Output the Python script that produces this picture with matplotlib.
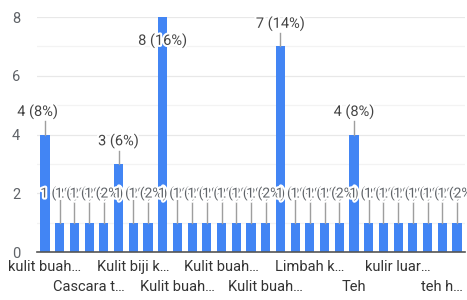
"""Bar chart of answer counts (Google Forms style)."""

import matplotlib

matplotlib.use("Agg")
import matplotlib.pyplot as plt
import matplotlib.patheffects as pe


# answer count per option, left to right
counts = [4, 1, 1, 1, 1, 3, 1, 1, 8, 1, 1, 1, 1, 1, 1, 1, 7, 1, 1, 1, 1, 4,
          1, 1, 1, 1, 1, 1, 1]

# only every third option name is visible in the chart (truncated)
tick_labels = [
    "kulit buah…", "", "", "Cascara t…", "", "", "Kulit biji k…", "", "",
    "Kulit buah…", "", "", "Kulit buah…", "", "", "Kulit buah…", "", "",
    "Limbah k…", "", "", "Teh", "", "", "kulir luar…", "", "", "teh h…", "",
]

BLUE = "#4285f4"
TEXT = "#5f6368"
GRID = "#e8e8e8"
HALO = [pe.withStroke(linewidth=3, foreground="white")]


def main() -> None:
    plt.rcParams["font.family"] = ["Roboto", "DejaVu Sans"]

    total = sum(counts)
    xs = list(range(len(counts)))

    fig = plt.figure(figsize=(4.67, 3.0), dpi=100)
    ax = fig.add_axes([0.079, 0.16, 0.917, 0.783])

    ax.bar(xs, counts, width=0.62, color=BLUE, zorder=2)

    ax.set_xlim(-0.55, len(counts) - 0.45)
    ax.set_ylim(0, 8)
    ax.set_yticks([0, 2, 4, 6, 8])
    ax.set_yticks([1, 3, 5, 7], minor=True)
    ax.grid(axis="y", which="major", color=GRID, linewidth=0.9, zorder=0)
    ax.grid(axis="y", which="minor", color="#f3f3f3", linewidth=0.9, zorder=0)
    ax.tick_params(axis="y", which="both", length=0, labelsize=10.5,
                   labelcolor=TEXT, pad=12)
    for side in ("top", "right", "left"):
        ax.spines[side].set_visible(False)
    ax.spines["bottom"].set_color("#555555")
    ax.spines["bottom"].set_linewidth(1.2)
    ax.spines["bottom"].set_zorder(3)

    # x labels: every third option, alternating two rows
    pos = [i for i, lab in enumerate(tick_labels) if lab]
    labs = []
    for k, i in enumerate(pos):
        labs.append(tick_labels[i] if k % 2 == 0 else "\n" + tick_labels[i])
    ax.set_xticks(pos, labs)
    ax.tick_params(axis="x", length=0, labelsize=10.5, labelcolor="#333333",
                   pad=6)
    for t in ax.get_xticklabels():
        t.set_linespacing(1.55)

    # value labels with leader lines, white halo like the original
    for i, v in enumerate(counts):
        label = f"{v} ({round(v / total * 100)}%)"
        if v == 1:
            ax.plot([i, i], [v, 1.78], color="#9e9e9e", lw=1, zorder=3)
            ax.text(i, 2.0, label, ha="center", va="center", fontsize=10,
                    color=TEXT, zorder=4 + i, path_effects=HALO, clip_on=False)
        elif v == max(counts):
            ax.text(i, 7.2, label, ha="center", va="center",
                    fontsize=10.5, color="#444444", zorder=40,
                    path_effects=HALO)
        else:
            ax.plot([i, i], [v, v + 0.45], color="#9e9e9e", lw=1, zorder=3)
            dx = -0.5 if i == 0 else 0
            ax.text(i + dx, v + 0.78, label, ha="center", va="center",
                    fontsize=10.5, color="#444444", zorder=40,
                    path_effects=HALO)

    fig.savefig("out.png", dpi=100)
    plt.close(fig)


if __name__ == "__main__":
    main()
